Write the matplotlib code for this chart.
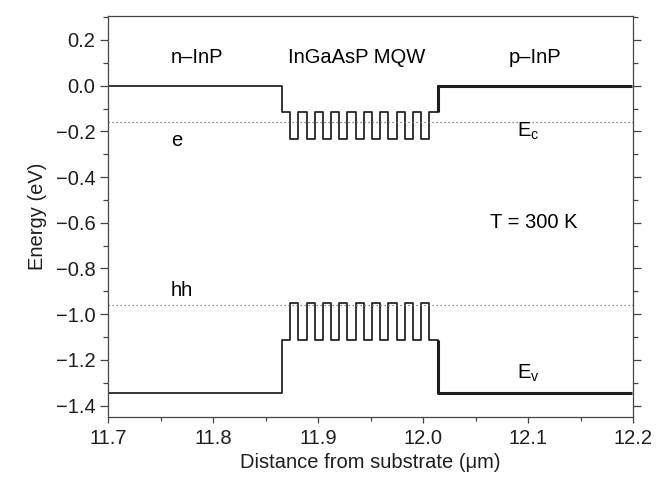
import numpy as np
import matplotlib
matplotlib.use('Agg')
import matplotlib.pyplot as plt
from matplotlib.ticker import MultipleLocator, FuncFormatter

plt.rcParams['font.family'] = ['Liberation Sans', 'DejaVu Sans']

# layer stack (um) from n-InP through 9 wells to p-InP
layer_thickness = [0.1655, 0.008] + [0.0077, 0.0079] * 8 + [0.0077, 0.008, 0.1855]
# band edges per layer (eV)
ec_layer = [0.0, -0.117] + [-0.232, -0.117] * 8 + [-0.232, -0.117, 0.0]
ev_layer = [-1.345, -1.115] + [-0.952, -1.115] * 8 + [-0.952, -1.115, -1.345]
x_origin = 11.7

# confined levels (eV)
e_level = -0.161
hh_level = -0.962

edges = x_origin + np.concatenate([[0], np.cumsum(layer_thickness)])

fig = plt.figure(figsize=(6.64, 4.88), dpi=100)
ax = fig.add_axes([108 / 664, 1 - 417 / 488, 525 / 664, 401 / 488])

line_col = '#1e1e1e'
for band in (ec_layer, ev_layer):
    # everything except p-InP thin
    ax.plot(edges[:-1], band, drawstyle='steps-post', color=line_col, lw=1.25)
    # p-InP drawn heavier
    ax.plot([edges[-2], edges[-2], edges[-1]], [band[-2], band[-1], band[-1]],
            color=line_col, lw=2.2, solid_capstyle='butt')

ax.axhline(e_level, color='#666666', lw=0.9, ls=(0, (1, 2.2)))
ax.axhline(hh_level, color='#666666', lw=0.9, ls=(0, (1, 2.2)))

fs = 14.5
ax.text(11.785, 0.125, 'n\u2013InP', ha='center', va='center', fontsize=fs)
ax.text(11.937, 0.125, 'InGaAsP MQW', ha='center', va='center', fontsize=fs)
ax.text(12.107, 0.125, 'p\u2013InP', ha='center', va='center', fontsize=fs)
ax.text(12.1, -0.2, r'E$_\mathregular{c}$', ha='center', va='center', fontsize=fs)
ax.text(12.1, -1.26, r'E$_\mathregular{v}$', ha='center', va='center', fontsize=fs)
ax.text(11.765, -0.24, 'e', ha='center', va='center', fontsize=fs)
ax.text(11.77, -0.895, 'hh', ha='center', va='center', fontsize=fs)
ax.text(12.105, -0.6, 'T = 300 K', ha='center', va='center', fontsize=fs)

ax.set_xlim(11.7, 12.2)
ax.set_ylim(-1.45, 0.305)
ax.xaxis.set_major_locator(MultipleLocator(0.1))
ax.xaxis.set_minor_locator(MultipleLocator(0.05))
ax.yaxis.set_major_locator(MultipleLocator(0.2))
ax.yaxis.set_minor_locator(MultipleLocator(0.1))
fmt = FuncFormatter(lambda v, p: ('%.1f' % v).replace('-', '\u2212') if abs(v) > 1e-9 else '0.0')
ax.xaxis.set_major_formatter(fmt)
ax.yaxis.set_major_formatter(fmt)

ax.tick_params(axis='y', which='both', direction='out', right=True,
               labelsize=fs, colors='#444444', labelcolor='#1e1e1e', pad=3)
ax.tick_params(axis='y', which='major', length=6, width=0.9)
ax.tick_params(axis='y', which='minor', length=3.6, width=0.9)
ax.tick_params(axis='x', which='both', direction='out', top=False,
               labelsize=fs, colors='#444444', labelcolor='#1e1e1e', pad=5)
ax.tick_params(axis='x', which='major', length=4, width=0.9)
ax.tick_params(axis='x', which='minor', length=2.7, width=0.9)
for s in ax.spines.values():
    s.set_color('#444444')
    s.set_linewidth(0.9)

ax.set_xlabel('Distance from substrate (\u03bcm)', fontsize=fs, color='#1e1e1e', labelpad=3)
ax.set_ylabel('Energy (eV)', fontsize=fs, color='#1e1e1e', labelpad=6)

fig.savefig('out.png', dpi=100)
